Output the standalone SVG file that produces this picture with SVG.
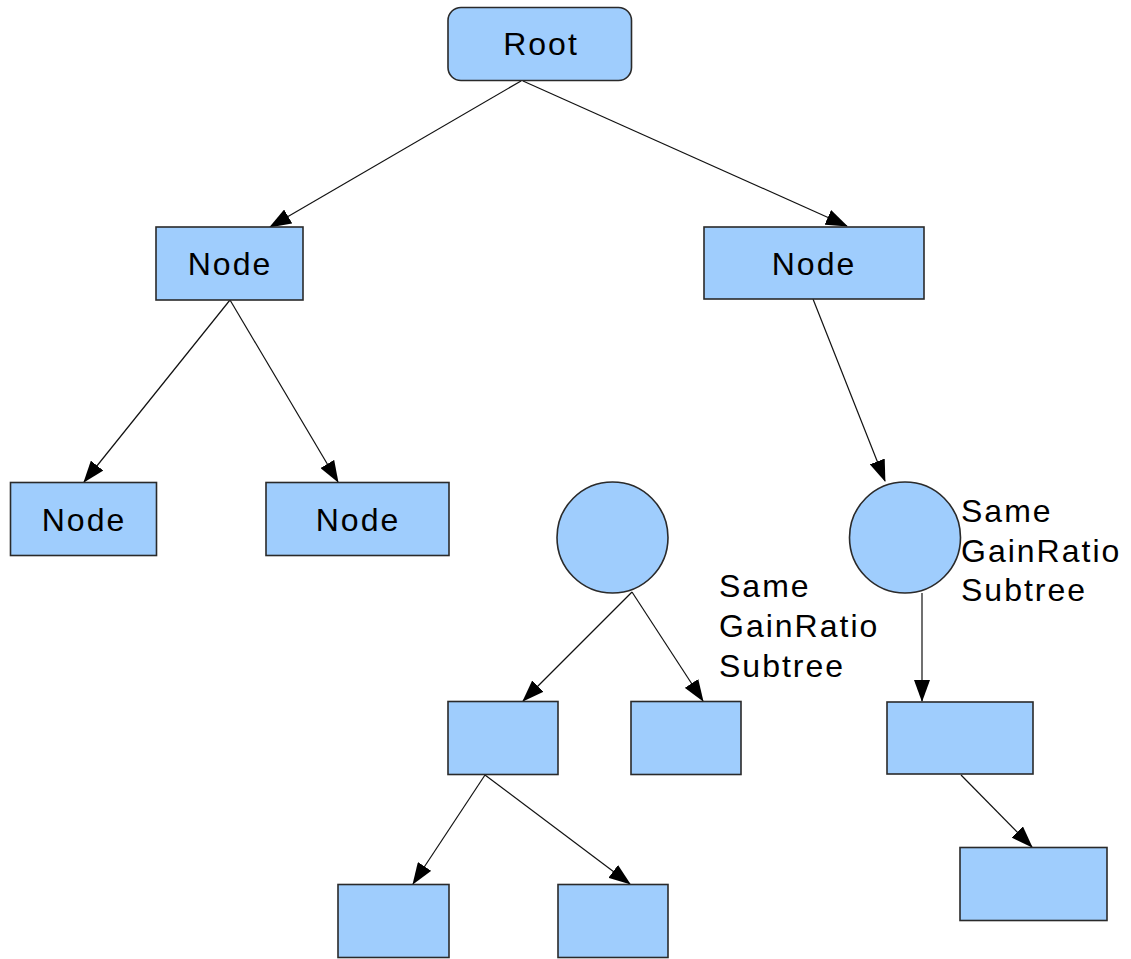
<svg xmlns="http://www.w3.org/2000/svg" width="1131" height="959" viewBox="0 0 1131 959">
<style>
.box{fill:#9fcdfd;stroke:#2a2a2a;stroke-width:1.6}
.edge{stroke:#111;stroke-width:1.2;fill:none;marker-end:url(#arr)}
.lbl{font-family:"Liberation Sans",Arial,sans-serif;font-size:32px;letter-spacing:2px;fill:#000}
.c{text-anchor:middle}
</style>
<defs>
<marker id="arr" markerUnits="userSpaceOnUse" markerWidth="22" markerHeight="16" viewBox="0 0 22 16" refX="21" refY="8" orient="auto">
<path d="M0,0 L22,8 L0,16 z" fill="#000"/>
</marker>
</defs>
<rect width="1131" height="959" fill="#fff"/>
<g id="connectors">
<line class="edge" x1="521" y1="81" x2="270" y2="227"/>
<line class="edge" x1="523" y1="81" x2="847" y2="226"/>
<line class="edge" x1="230" y1="300" x2="84" y2="482"/>
<line class="edge" x1="230" y1="300" x2="338" y2="482"/>
<line class="edge" x1="813" y1="299" x2="885" y2="481"/>
<line class="edge" x1="632" y1="592" x2="523" y2="701"/>
<line class="edge" x1="632" y1="592" x2="703" y2="701"/>
<line class="edge" x1="922" y1="593" x2="922" y2="701"/>
<line class="edge" x1="485" y1="775" x2="413" y2="884"/>
<line class="edge" x1="485" y1="775" x2="630" y2="884"/>
<line class="edge" x1="961" y1="775" x2="1032" y2="847"/>
</g>
<g id="root">
<rect class="box" x="448" y="7.5" width="183.5" height="73" rx="13"/>
<text class="lbl c" x="541" y="55">Root</text>
</g>
<g id="nodeL">
<rect class="box" x="156" y="227" width="147" height="73"/>
<text class="lbl c" x="230" y="275">Node</text>
</g>
<g id="nodeR">
<rect class="box" x="704" y="227" width="220" height="72"/>
<text class="lbl c" x="814" y="275">Node</text>
</g>
<g id="nodeLL">
<rect class="box" x="10.5" y="482.5" width="146" height="73"/>
<text class="lbl c" x="84" y="531">Node</text>
</g>
<g id="nodeLR">
<rect class="box" x="266" y="482.5" width="183" height="73"/>
<text class="lbl c" x="358" y="531">Node</text>
</g>
<g id="circle1">
<circle class="box" cx="612.5" cy="537.5" r="55.5"/>
</g>
<g id="label1">
<text class="lbl" x="719" y="597">Same</text>
<text class="lbl" x="719" y="637">GainRatio</text>
<text class="lbl" x="719" y="677">Subtree</text>
</g>
<g id="circle2">
<circle class="box" cx="905" cy="537.5" r="55.5"/>
</g>
<g id="label2">
<text class="lbl" x="961" y="522">Same</text>
<text class="lbl" x="961" y="562">GainRatio</text>
<text class="lbl" x="961" y="601">Subtree</text>
</g>
<g id="boxA">
<rect class="box" x="448" y="701.5" width="110" height="73"/>
</g>
<g id="boxB">
<rect class="box" x="631" y="701.5" width="110" height="73"/>
</g>
<g id="boxC">
<rect class="box" x="338" y="884.5" width="111" height="73"/>
</g>
<g id="boxD">
<rect class="box" x="558" y="884.5" width="110" height="73"/>
</g>
<g id="boxE">
<rect class="box" x="887" y="702" width="146" height="72"/>
</g>
<g id="boxF">
<rect class="box" x="960" y="847.5" width="147" height="73"/>
</g>
</svg>
